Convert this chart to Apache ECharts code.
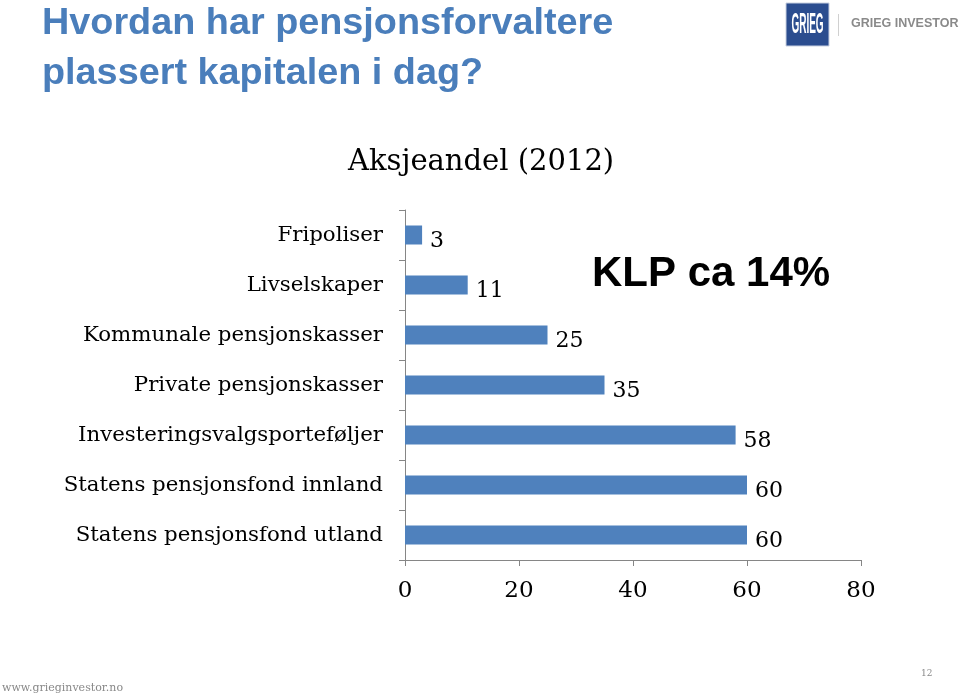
<!DOCTYPE html>
<html><head><meta charset="utf-8">
<script src="https://cdn.jsdelivr.net/npm/echarts@6/dist/echarts.min.js"></script>
<style>html,body{margin:0;padding:0;background:#fff}#c{width:960px;height:698px}</style>
</head><body><div id="c"></div>
<script>
const categories = ["Fripoliser","Livselskaper","Kommunale pensjonskasser","Private pensjonskasser","Investeringsvalgsporteføljer","Statens pensjonsfond innland","Statens pensjonsfond utland"];
const values = [3, 11, 25, 35, 58, 60, 60];
const xTicks = [0, 20, 40, 60, 80];
const chartTitle = "Aksjeandel (2012)";
const slideTitle = "Hvordan har pensjonsforvaltere\nplassert kapitalen i dag?";
const note = "KLP ca 14%";
const serif = "'DejaVu Serif', serif";

const chart = echarts.init(document.getElementById('c'));
chart.setOption({
  animation: false,
  title: [
    {text: slideTitle, left: 37, top: -6, textStyle: {fontFamily: 'Liberation Sans, Arial', fontWeight: 'bold', fontSize: 37.8, color: '#4a7ebb', lineHeight: 50}},
    {text: chartTitle, left: 343, top: 143, textStyle: {fontFamily: serif, fontWeight: 'normal', fontSize: 29, color: '#000'}}
  ],
  grid: {left: 405, right: 99, top: 210, bottom: 138},
  xAxis: {
    type: 'value', min: 0, max: 80, interval: 20,
    axisLine: {show: true, lineStyle: {color: '#868686'}},
    axisTick: {show: true, length: 6, lineStyle: {color: '#868686'}},
    splitLine: {show: false},
    axisLabel: {fontFamily: serif, fontSize: 23, color: '#000', margin: 20,
      formatter: v => xTicks.includes(v) ? String(v) : ''}
  },
  yAxis: {
    type: 'category', data: categories, inverse: true,
    axisLine: {show: true, lineStyle: {color: '#868686'}},
    axisTick: {show: true, length: 6, lineStyle: {color: '#868686'}},
    axisLabel: {fontFamily: serif, fontSize: 21.3, color: '#000', margin: 22}
  },
  series: [{
    type: 'bar', data: values, barWidth: 19,
    itemStyle: {color: '#4f81bd'},
    label: {show: true, position: 'right', distance: 8, fontFamily: serif, fontSize: 22, color: '#000', offset: [0, 6]}
  }],
  graphic: [
    {type: 'text', left: 592, top: 253, style: {text: note, font: 'bold 42px "Liberation Sans", Arial', fill: '#000'}},
    {type: 'rect', shape: {x: 786, y: 3, width: 43, height: 43}, style: {fill: '#2b4d8f', stroke: '#c8d0e0', lineWidth: 1}},
    {type: 'group', x: 807.5, y: 24.5, scaleY: 3, children: [
      {type: 'text', x: 0, y: 0, style: {text: 'GRIEG', font: 'bold 10px "Liberation Sans"', fill: '#fff', align: 'center', verticalAlign: 'middle'}}
    ]},
    {type: 'rect', shape: {x: 838, y: 14, width: 1, height: 22}, style: {fill: '#d0d0d0'}},
    {type: 'text', x: 851, y: 24, style: {text: 'GRIEG INVESTOR', font: 'bold 12.5px "Liberation Sans"', fill: '#8a8a8a', verticalAlign: 'middle'}},
    {type: 'text', left: 2, top: 683, style: {text: 'www.grieginvestor.no', font: '11px "DejaVu Serif"', fill: '#888'}},
    {type: 'text', left: 921, top: 669, style: {text: '12', font: '9px "DejaVu Serif"', fill: '#888'}}
  ]
});
</script></body></html>
